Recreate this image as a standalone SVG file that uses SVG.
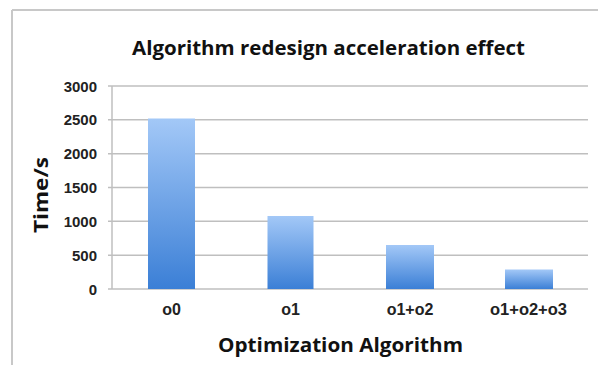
<svg xmlns="http://www.w3.org/2000/svg" width="598" height="365" viewBox="0 0 598 365">
<defs>
<linearGradient id="barGrad" x1="0" y1="0" x2="0" y2="1">
<stop offset="0" stop-color="#a3c8f7"/>
<stop offset="1" stop-color="#3b7fd6"/>
</linearGradient>
<style>
.grid{stroke:#bfbfbf;stroke-width:1.5;fill:none}
.tick{font-family:"Liberation Sans",Arial,sans-serif;font-weight:bold;font-size:15px;fill:#222}
.cat{font-family:"Liberation Sans",Arial,sans-serif;font-weight:bold;font-size:16px;fill:#222}
.title{font-family:"Open Sans","Liberation Sans",sans-serif;font-weight:bold;fill:#111}
.bar{fill:url(#barGrad)}
</style>
</defs>
<rect width="598" height="365" fill="#ffffff"/>
<g id="frame">
<line x1="12" y1="10" x2="598" y2="10" stroke="#c8c8c8" stroke-width="2"/>
<line x1="12" y1="10" x2="12" y2="365" stroke="#c8c8c8" stroke-width="2"/>
</g>
<g id="grid">
<line class="grid" x1="108" y1="86" x2="588" y2="86"/>
<line class="grid" x1="108" y1="119.8" x2="588" y2="119.8"/>
<line class="grid" x1="108" y1="153.7" x2="588" y2="153.7"/>
<line class="grid" x1="108" y1="187.5" x2="588" y2="187.5"/>
<line class="grid" x1="108" y1="221.3" x2="588" y2="221.3"/>
<line class="grid" x1="108" y1="255.2" x2="588" y2="255.2"/>
<line class="grid" x1="108" y1="289" x2="588" y2="289"/>
<line class="grid" x1="112" y1="86" x2="112" y2="289"/>
</g>
<g id="bars">
<rect class="bar" x="148" y="118.5" width="47" height="170.5"/>
<rect class="bar" x="267.5" y="216" width="46" height="73"/>
<rect class="bar" x="386" y="245" width="48" height="44"/>
<rect class="bar" x="505" y="269.5" width="48" height="19.5"/>
</g>
<g id="yticks" text-anchor="end">
<text class="tick" x="97" y="91.5">3000</text>
<text class="tick" x="97" y="125.3">2500</text>
<text class="tick" x="97" y="159.2">2000</text>
<text class="tick" x="97" y="193">1500</text>
<text class="tick" x="97" y="226.8">1000</text>
<text class="tick" x="97" y="260.7">500</text>
<text class="tick" x="97" y="294.5">0</text>
</g>
<g id="xticks" text-anchor="middle">
<text class="cat" x="171.5" y="315">o0</text>
<text class="cat" x="290.5" y="315">o1</text>
<text class="cat" x="410" y="315">o1+o2</text>
<text class="cat" x="528.5" y="315" textLength="77" lengthAdjust="spacingAndGlyphs">o1+o2+o3</text>
</g>
<text class="title" x="328.5" y="55" font-size="20" text-anchor="middle" textLength="393" lengthAdjust="spacingAndGlyphs">Algorithm redesign acceleration effect</text>
<text class="title" x="340.5" y="352" font-size="19.5" text-anchor="middle" textLength="245" lengthAdjust="spacingAndGlyphs">Optimization Algorithm</text>
<text class="title" x="0" y="0" font-size="20" text-anchor="middle" transform="translate(48,195) rotate(-90)" textLength="76" lengthAdjust="spacingAndGlyphs">Time/s</text>
</svg>
